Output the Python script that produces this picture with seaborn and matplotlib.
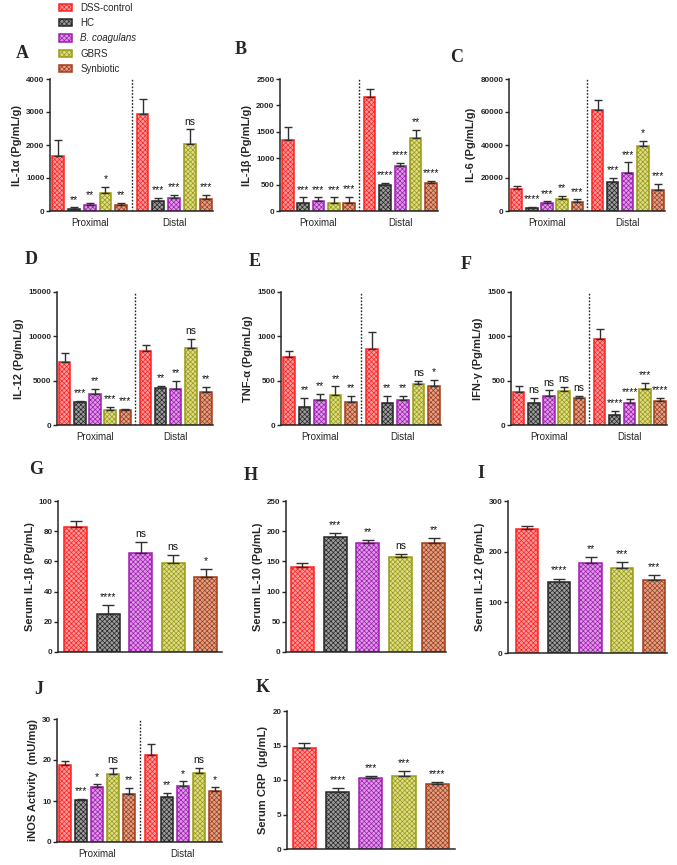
import matplotlib
matplotlib.use("Agg")
import matplotlib.pyplot as plt
import numpy as np
import pandas as pd
import seaborn as sns
from matplotlib.patches import Patch

groups = ["DSS-control", "HC", "B. coagulans", "GBRS", "Synbiotic"]
regions = ["Proximal", "Distal"]

# colon panels: 5 proximal values then 5 distal values
il1a_mean = [1680, 70, 180, 560, 170, 2950, 300, 380, 2040, 350]
il1a_sem = [470, 40, 70, 180, 80, 450, 100, 120, 430, 150]
il1a_sig = ["", "**", "**", "*", "**", "", "***", "***", "ns", "***"]

il1b_mean = [1350, 150, 180, 150, 150, 2150, 490, 860, 1380, 530]
il1b_sem = [250, 110, 80, 110, 120, 160, 40, 50, 150, 40]
il1b_sig = ["", "***", "***", "***", "***", "", "****", "****", "**", "****"]

il6_mean = [13500, 2000, 5000, 7500, 5500, 61000, 17500, 23000, 39500, 13000]
il6_sem = [1800, 500, 800, 1500, 1500, 6000, 2500, 6500, 3000, 3500]
il6_sig = ["", "****", "***", "**", "***", "", "***", "***", "*", "***"]

il12_mean = [7070, 2600, 3450, 1650, 1700, 8350, 4140, 4070, 8650, 3700]
il12_sem = [1050, 120, 600, 430, 150, 630, 300, 880, 1100, 580]
il12_sig = ["", "***", "**", "***", "***", "", "**", "**", "ns", "**"]

tnfa_mean = [765, 207, 283, 337, 265, 860, 250, 287, 467, 439]
tnfa_sem = [65, 95, 65, 100, 65, 185, 80, 45, 33, 68]
tnfa_sig = ["", "**", "**", "**", "**", "", "**", "**", "ns", "*"]

ifng_mean = [371, 243, 323, 379, 301, 970, 114, 249, 410, 276]
ifng_sem = [74, 62, 67, 50, 30, 110, 47, 41, 62, 29]
ifng_sig = ["", "ns", "ns", "ns", "ns", "", "****", "****", "***", "****"]

inos_mean = [18.8, 10.2, 13.5, 16.6, 11.7, 21.2, 11.0, 13.6, 16.8, 12.4]
inos_sem = [1.0, 0.4, 0.6, 1.5, 1.5, 2.8, 1.0, 1.2, 1.3, 1.0]
inos_sig = ["", "***", "*", "ns", "**", "", "**", "*", "ns", "*"]

# serum panels: one value per group
s_il1b_mean = [82.5, 25, 65.5, 59, 50]
s_il1b_sem = [4.5, 6, 7.5, 5, 5]
s_il1b_sig = ["", "****", "ns", "ns", "*"]

s_il10_mean = [140, 191, 180, 158, 181]
s_il10_sem = [7, 6, 5, 5, 7]
s_il10_sig = ["", "***", "**", "ns", "**"]

s_il12_mean = [245, 140, 178, 168, 144]
s_il12_sem = [6, 7, 12, 12, 9]
s_il12_sig = ["", "****", "**", "***", "***"]

crp_mean = [14.7, 8.3, 10.3, 10.6, 9.4]
crp_sem = [0.7, 0.5, 0.3, 0.7, 0.3]
crp_sig = ["", "****", "***", "***", "****"]

edge_colors = ["#ff2020", "#262626", "#a01cb0", "#9a9a14", "#a43c18"]
face_colors = ["#ff9a9a", "#9c9c9c", "#dc9ae6", "#dcdc8a", "#dca28a"]

sns.set_style("ticks")
plt.rcParams["font.family"] = ["Liberation Sans", "DejaVu Sans"]
plt.rcParams["hatch.linewidth"] = 0.5

W, H = 677, 865
fig = plt.figure(figsize=(W / 100, H / 100), dpi=100)


def px_axes(x0, x1, y0, y1):
    return fig.add_axes([x0 / W, 1 - y1 / H, (x1 - x0) / W, (y1 - y0) / H])


def style_axes(ax, ymax, ystep, ylabel):
    ax.set_ylim(0, ymax)
    ax.set_yticks(np.arange(0, ymax + ystep / 2, ystep))
    ax.set_ylabel(ylabel, fontsize=8, fontweight="bold", labelpad=3)
    ax.set_xlabel("")
    sns.despine(ax=ax)
    for s in ["left", "bottom"]:
        ax.spines[s].set_linewidth(1.1)
    ax.tick_params(axis="y", labelsize=5.8, length=3, width=1, pad=1)
    for t in ax.get_yticklabels():
        t.set_fontweight("bold")


def finish_bars(ax, means, sems, sigs, ymax, n_cat):
    conts = list(ax.containers)
    for i, cont in enumerate(conts):
        for j, bar in enumerate(cont):
            k = j * 5 + i if n_cat == 2 else i
            bar.set_hatch("xxxxxxx")
            bar.set_edgecolor(edge_colors[i])
            bar.set_linewidth(1.1)
            xc = bar.get_x() + bar.get_width() / 2
            top = means[k] + sems[k]
            ax.errorbar(xc, means[k], yerr=[[0], [sems[k]]], fmt="none",
                        ecolor="#303030", elinewidth=1, capsize=3 if n_cat == 2 else 4,
                        capthick=1)
            if sigs[k]:
                ax.text(xc, top + ymax * 0.02, sigs[k], ha="center", va="bottom",
                        fontsize=7.5, color="#111111")


def grouped_panel(box, means, sems, sigs, ymax, ystep, ylabel):
    ax = px_axes(*box)
    df = pd.DataFrame({"region": [r for r in regions for _ in groups],
                       "group": groups * 2, "value": means})
    sns.barplot(data=df, x="region", y="value", hue="group", order=regions,
                hue_order=groups, palette=dict(zip(groups, face_colors)),
                width=0.935, gap=0.25, errorbar=None, saturation=1,
                legend=False, ax=ax)
    finish_bars(ax, means, sems, sigs, ymax, 2)
    ax.axvline(0.5, color="#222222", ls=(0, (1.2, 1.2)), lw=1)
    ax.set_xlim(-0.47, 1.46)
    style_axes(ax, ymax, ystep, ylabel)
    ax.tick_params(axis="x", length=0, labelsize=7, pad=5)
    return ax


def single_panel(box, means, sems, sigs, ymax, ystep, ylabel, xlim):
    ax = px_axes(*box)
    df = pd.DataFrame({"group": groups, "value": means})
    sns.barplot(data=df, x="group", y="value", hue="group", order=groups,
                hue_order=groups, palette=dict(zip(groups, face_colors)),
                width=0.7, errorbar=None, saturation=1, legend=False, ax=ax)
    finish_bars(ax, means, sems, sigs, ymax, 1)
    ax.set_xlim(*xlim)
    style_axes(ax, ymax, ystep, ylabel)
    ax.set_xticks([])
    return ax


grouped_panel((50, 213, 79, 211), il1a_mean, il1a_sem, il1a_sig, 4000, 1000, "IL-1α (Pg/mL/g)")
grouped_panel((280, 438, 79, 211), il1b_mean, il1b_sem, il1b_sig, 2500, 500, "IL-1β (Pg/mL/g)")
grouped_panel((509, 665, 79, 211), il6_mean, il6_sem, il6_sig, 80000, 20000, "IL-6 (Pg/mL/g)")
grouped_panel((57, 213, 292, 425), il12_mean, il12_sem, il12_sig, 15000, 5000, "IL-12 (Pg/mL/g)")
grouped_panel((281, 441, 292, 425), tnfa_mean, tnfa_sem, tnfa_sig, 1500, 500, "TNF-α (Pg/mL/g)")
grouped_panel((511, 667, 292, 425), ifng_mean, ifng_sem, ifng_sig, 1500, 500, "IFN-γ (Pg/mL/g)")
single_panel((58, 222, 501, 652), s_il1b_mean, s_il1b_sem, s_il1b_sig, 100, 20,
             "Serum IL-1β (Pg/mL)", (-0.54, 4.5))
single_panel((286, 446, 501, 652), s_il10_mean, s_il10_sem, s_il10_sig, 250, 50,
             "Serum IL-10 (Pg/mL)", (-0.49, 4.37))
single_panel((508, 667, 501, 653), s_il12_mean, s_il12_sem, s_il12_sig, 300, 100,
             "Serum IL-12 (Pg/mL)", (-0.61, 4.42))
grouped_panel((57, 222, 719, 842), inos_mean, inos_sem, inos_sig, 30, 10, "iNOS Activity  (mU/mg)")
single_panel((287, 455, 711, 849), crp_mean, crp_sem, crp_sig, 20, 5,
             "Serum CRP  (μg/mL)", (-0.52, 4.53))

letters = {"A": (22, 53), "B": (241, 50), "C": (457, 57), "D": (31, 259),
           "E": (255, 262), "F": (466, 264), "G": (36, 470), "H": (251, 475),
           "I": (481, 473), "J": (39, 690), "K": (263, 687)}
for s, (x, y) in letters.items():
    fig.text(x / W, 1 - y / H, s, fontsize=13, fontweight="bold",
             family="Liberation Serif", ha="center", va="center")

handles = [Patch(facecolor=face_colors[i], edgecolor=edge_colors[i], hatch="xxxxxxx",
                 linewidth=1.1, label=groups[i]) for i in range(5)]
leg = fig.legend(handles=handles, loc="upper left", bbox_to_anchor=(50 / W, 1.007),
                 frameon=False, fontsize=7, handlelength=1.4, handleheight=0.8,
                 labelspacing=0.55, handletextpad=0.8)
leg.get_texts()[2].set_fontstyle("italic")

fig.savefig("out.png", dpi=100)
